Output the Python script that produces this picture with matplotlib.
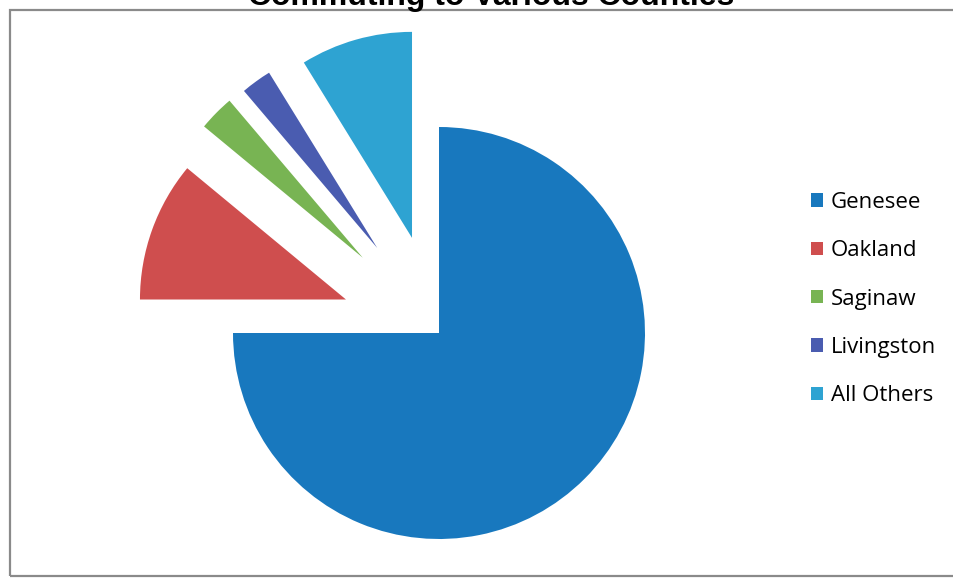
import matplotlib.pyplot as plt
from matplotlib.patches import Rectangle

# commuter share by destination county (percent)
counties = ["Genesee", "Oakland", "Saginaw", "Livingston", "All Others"]
shares = [75.0, 11.0, 2.8, 2.4, 8.8]
colors = ["#1878BE", "#CF4E4E", "#78B453", "#4A5CB0", "#2EA3D2"]
# pull-out of each slice, as a fraction of the pie radius
explode_frac = [0, 0.48, 0.52, 0.51, 0.48]

W, H = 954, 581
R = 206
fig = plt.figure(figsize=(W / 100., H / 100.), dpi=100)
fig.patch.set_facecolor("white")

# axes covering the whole figure, one unit = one pixel
ax = fig.add_axes([0, 0, 1, 1])

# chart frame
ax.add_patch(Rectangle((10, 5), W, H - 15, fill=False, edgecolor="#8a8a8a",
                       linewidth=1.6, zorder=0))

# pie() takes explode in data units, so scale by the radius
wedges, _ = ax.pie(shares, colors=colors, explode=[e * R for e in explode_frac],
                   startangle=90, counterclock=False, radius=R,
                   center=(439, H - 333), wedgeprops=dict(linewidth=0), frame=True)
ax.set_xlim(0, W)
ax.set_ylim(0, H)
ax.set_aspect("equal")
ax.axis("off")

ax.legend(wedges, counties, loc="upper left", bbox_to_anchor=(802. / W, 1 - 183. / H),
          bbox_transform=fig.transFigure, frameon=False,
          prop={"family": "Open Sans", "size": 16},
          handlelength=0.55, handleheight=0.55, handletextpad=0.35,
          labelspacing=1.23, borderaxespad=0)

fig.text(491. / W, 1 - 5. / H, "Commuting to Various Counties", ha="center",
         va="baseline", fontsize=23, fontweight="bold", family="Liberation Sans")

fig.savefig("out.png", dpi=100)
